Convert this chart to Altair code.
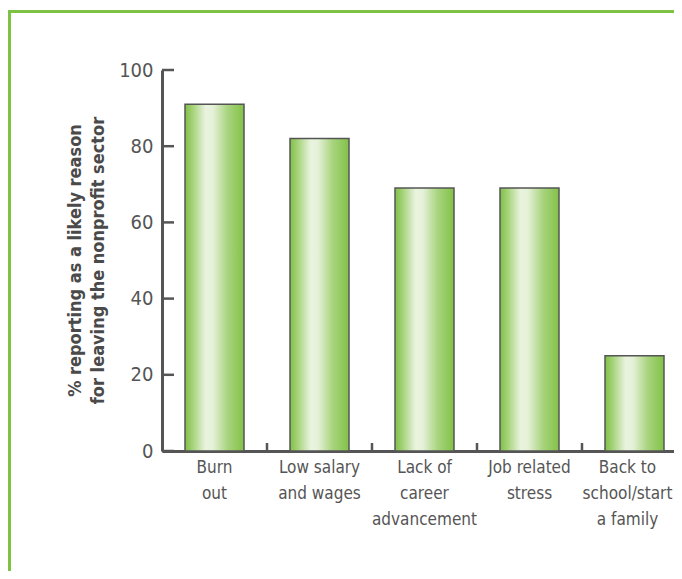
import altair as alt
import pandas as pd

categories = ["Burn out", "Low salary and wages", "Lack of career advancement",
              "Job related stress", "Back to school/start a family"]
label_lines = [["Burn", "out"], ["Low salary", "and wages"], ["Lack of", "career", "advancement"],
               ["Job related", "stress"], ["Back to", "school/start", "a family"]]
values = [91, 82, 69, 69, 25]
y_ticks = [0, 20, 40, 60, 80, 100]
y_title = ["% reporting as a likely reason", "for leaving the nonprofit sector"]

FONT = "DejaVu Sans Condensed, sans-serif"
AXIS = "#555555"
GREEN = "#7dc242"

PL, PT = 154, 62
SVG_W, SVG_H = 666, 563
W, H = SVG_W - PL, 381

df = pd.DataFrame({"cat": categories, "value": values})
ticks_df = pd.DataFrame({"t": y_ticks})
xt_df = pd.DataFrame({"cat": categories[:-1]})

expr = "".join(
    f"datum.label == '{c}' ? [{', '.join(repr(s) for s in l)}] : " for c, l in zip(categories, label_lines)
) + "datum.label"

xscale = alt.Scale(domain=categories, range=[0, 525], paddingInner=0, paddingOuter=0)
yscale = alt.Scale(domain=[0, 100], nice=False)

grad = alt.Gradient(
    gradient="linear", x1=0, x2=1, y1=0, y2=0,
    stops=[
        alt.GradientStop(offset=0, color="#7fc046"),
        alt.GradientStop(offset=0.12, color="#a2d174"),
        alt.GradientStop(offset=0.35, color="#e9f3df"),
        alt.GradientStop(offset=0.47, color="#e6f1d9"),
        alt.GradientStop(offset=0.72, color="#a9d47f"),
        alt.GradientStop(offset=1, color="#82c247"),
    ],
)

last_offset = {"condition": {"test": f"datum.value == '{categories[-1]}'", "value": -7}, "value": 0}

bars = alt.Chart(df).mark_bar(size=59, color=grad, stroke=AXIS, strokeWidth=1.5).encode(
    x=alt.X("cat:N", scale=xscale, sort=categories,
            axis=alt.Axis(title=None, labelAngle=0, ticks=False, labelExpr=expr,
                          labelFont=FONT, labelFontSize=17, labelLineHeight=26,
                          labelColor=AXIS, labelPadding=8, domainColor=AXIS,
                          domainWidth=3, labelBaseline="top", labelOffset=last_offset)),
    y=alt.Y("value:Q", scale=yscale,
            axis=alt.Axis(title=y_title, values=y_ticks, ticks=False, grid=False,
                          labelFont=FONT, labelFontSize=20, labelColor=AXIS,
                          labelPadding=9, domainColor=AXIS, domainWidth=3,
                          titleFont=FONT, titleFontSize=18, titleFontWeight="bold",
                          titleColor="#4a4a4a", titleLineHeight=23, titleAngle=270,
                          titleX=-78, titleY=190, titleBaseline="bottom",
                          titleAlign="center")),
)

yticks = alt.Chart(ticks_df).mark_rule(color=AXIS, strokeWidth=2.5).encode(
    y=alt.Y("t:Q", scale=yscale), x=alt.value(0), x2=alt.value(12)
)

xticks = alt.Chart(xt_df).mark_rule(color=AXIS, strokeWidth=2.5).encode(
    x=alt.X("cat:N", scale=xscale, sort=categories, bandPosition=1),
    y=alt.value(H - 8), y2=alt.value(H)
)

frame_top = alt.Chart(df).mark_rule(color=GREEN, strokeWidth=3).encode(
    x=alt.value(-PL - 2), x2=alt.value(SVG_W), y=alt.value(-58.5)
)
frame_left = alt.Chart(df).mark_rule(color=GREEN, strokeWidth=3).encode(
    x=alt.value(-PL + 1.5), y=alt.value(-60), y2=alt.value(SVG_H)
)

chart = alt.layer(bars, yticks, xticks, frame_top, frame_left).properties(
    width=W, height=H,
    autosize=alt.AutoSizeParams(type="none"),
    padding={"left": PL, "top": PT, "right": 0, "bottom": SVG_H - PT - H},
).configure_view(stroke=None)

chart.save("out.html", embed_options={"renderer": "svg", "actions": False})
